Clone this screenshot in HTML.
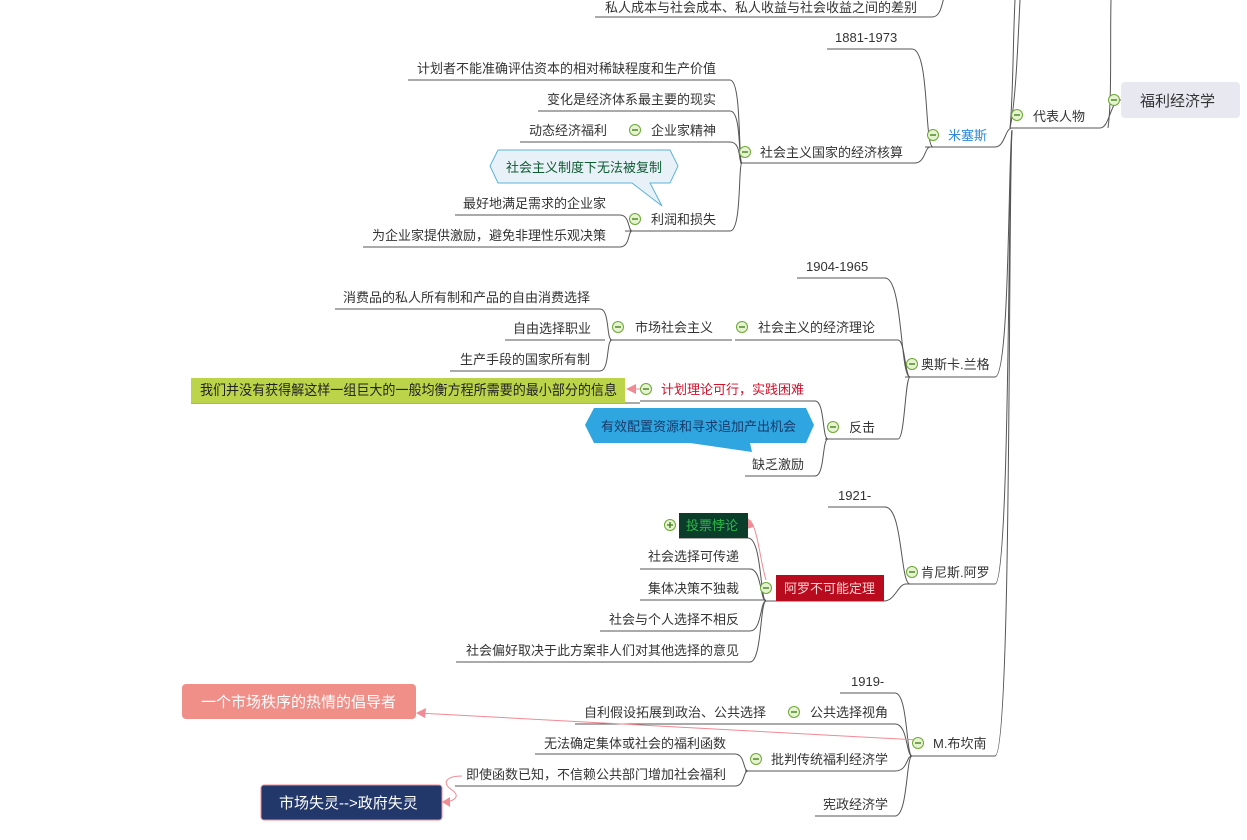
<!DOCTYPE html>
<html><head><meta charset="utf-8"><style>
html,body{margin:0;padding:0;background:#fff;width:1247px;height:840px;overflow:hidden}
svg text{font-family:"Liberation Sans","Noto Sans CJK SC",sans-serif;font-size:13px;fill:#333}
</style></head><body>
<svg width="1247" height="840" viewBox="0 0 1247 840" xmlns="http://www.w3.org/2000/svg">
<defs>
<g id="m"><circle r="5.5" fill="#e6f3d0" stroke="#6aa832" stroke-width="1"/><line x1="-3" y1="0" x2="3" y2="0" stroke="#3a7a12" stroke-width="1.3"/></g>
</defs>
<g fill="none" stroke="#555" stroke-width="1">
<path d="M595 17 H932 C942 17 942 0 945 -5"/>
<path d="M1010 128 C1013 100 1013 40 1015 0"/>
<path d="M1010 128 C1016 100 1018 40 1020 0"/>
<path d="M1108 128 C1112 100 1110 40 1111 0"/>
<path d="M1010 128 H1100 C1110 128 1110 100 1121 100"/>
<path d="M925 147 H995 C1005 147 1005 128 1012 128"/>
<path d="M905 377 H995 C1010 377 1008 160 1012 130"/>
<path d="M905 584 H995 C1010 584 1008 180 1012 130"/>
<path d="M910 756 H995 C1012 756 1008 200 1012 130"/>
<path d="M827 49 H912 C930 49 924 147 933 147"/>
<path d="M740 163 H915 C925 163 925 147 930 147"/>
<path d="M408 80 H730 C742 80 738 163 742 163"/>
<path d="M538 111 H730 C742 111 738 163 742 163"/>
<path d="M520 142 H730 C742 142 738 163 742 163"/>
<path d="M625 231 H730 C742 231 738 163 742 163"/>
<path d="M455 215 H620 C630 215 628 231 632 231"/>
<path d="M363 247 H620 C630 247 628 231 632 231"/>
<path d="M797 278 H885 C903 278 900 377 910 377"/>
<path d="M735 340 H898 C905 340 905 377 910 377"/>
<path d="M825 439 H898 C905 439 905 377 910 377"/>
<path d="M610 340 H732"/>
<path d="M335 309 H600 C610 309 606 340 612 340"/>
<path d="M505 340 H605"/>
<path d="M450 371 H600 C610 371 606 340 612 340"/>
<path d="M640 401 H815 C825 401 822 439 828 439"/>
<path d="M191 403 H640"/>
<path d="M745 476 H815 C825 476 822 439 828 439"/>
<path d="M828 507 H885 C903 507 900 584 910 584"/>
<path d="M766 601 H884 C895 601 898 584 906 584"/>
<path d="M679 538 H748 C762 538 760 601 766 601"/>
<path d="M640 569 H750 C762 569 760 601 766 601"/>
<path d="M640 600 H766"/>
<path d="M600 631 H750 C762 631 760 601 766 601"/>
<path d="M456 662 H750 C762 662 760 601 766 601"/>
<path d="M840 693 H895 C908 693 906 756 912 756"/>
<path d="M575 724 H895 C908 724 906 756 912 756"/>
<path d="M745 771 H895 C908 771 906 756 912 756"/>
<path d="M815 816 H895 C908 816 906 756 912 756"/>
<path d="M535 754 H735 C745 754 743 771 748 771"/>
<path d="M455 786 H735 C745 786 743 771 748 771"/>
</g>
<g fill="none" stroke="#f08a94" stroke-width="1">
<path d="M640 389 H628"/>
<path d="M766 580 C760 560 758 530 750 520"/>
<path d="M918 740 L418 713"/>
<path d="M462 776 C448 776 440 782 452 790 C462 797 452 802 444 802"/>
</g>
<g fill="#f08a94">
<polygon points="626,389 636,384 636,394"/>
<polygon points="748,518 746,529 754,527"/>
<polygon points="416,713 426,708 425,718"/>
<polygon points="442,802 450,797 450,807"/>
</g>
<rect x="1121" y="82" width="119" height="36" rx="4" fill="#e8e8f0"/>
<text x="1140" y="106" style="font-size:15px">福利经济学</text>
<polygon points="498,150 670,150 678,166 670,183 650,183 662,206 632,183 498,183 490,166" fill="#e9f1f8" stroke="#5ab4d8"/>
<text x="506" y="172" style="fill:#0e5a32">社会主义制度下无法被复制</text>
<rect x="191" y="378" width="434" height="25" fill="#bcd44a"/>
<text x="200" y="395" textLength="417" lengthAdjust="spacingAndGlyphs" style="font-size:14px;fill:#222">我们并没有获得解这样一组巨大的一般均衡方程所需要的最小部分的信息</text>
<polygon points="594,408 806,408 814,425 806,443 750,443 752,452 690,443 594,443 585,425" fill="#2fa6e0"/>
<text x="601" y="431" style="fill:#183a6a">有效配置资源和寻求追加产出机会</text>
<rect x="679" y="513" width="69" height="25" fill="#0a3d2a"/>
<text x="686" y="530" style="fill:#2db84a">投票悖论</text>
<rect x="776" y="575" width="108" height="26" fill="#b80c1e"/>
<text x="784" y="593" style="fill:#fbd6d6">阿罗不可能定理</text>
<rect x="182" y="684" width="234" height="35" rx="4" fill="#ef8f88"/>
<text x="201" y="707" style="font-size:15px;fill:#fff">一个市场秩序的热情的倡导者</text>
<rect x="261" y="785" width="181" height="35" rx="3" fill="#22376a" stroke="#f08a94"/>
<text x="279" y="808" style="font-size:15px;fill:#fff">市场失灵--&gt;政府失灵</text>
<use href="#m" x="1114" y="100"/><use href="#m" x="1017" y="115"/><use href="#m" x="933" y="135"/>
<use href="#m" x="745" y="152"/><use href="#m" x="635" y="130"/><use href="#m" x="635" y="219"/>
<use href="#m" x="912" y="364"/><use href="#m" x="742" y="327"/><use href="#m" x="618" y="327"/>
<use href="#m" x="833" y="427"/><use href="#m" x="646" y="389"/><use href="#m" x="912" y="572"/>
<use href="#m" x="766" y="588"/><use href="#m" x="918" y="743"/><use href="#m" x="794" y="712"/><use href="#m" x="756" y="759"/>
<g><circle cx="670" cy="525" r="5.5" fill="#e6f3d0" stroke="#6aa832"/><path d="M667 525H673M670 522V528" stroke="#3a7a12" stroke-width="1.3"/></g>
<text x="605" y="12">私人成本与社会成本、私人收益与社会收益之间的差别</text>
<text x="835" y="42">1881-1973</text>
<text x="1033" y="121">代表人物</text>
<text x="948" y="140" style="fill:#2f8ad8">米塞斯</text>
<text x="760" y="157">社会主义国家的经济核算</text>
<text x="417" y="73">计划者不能准确评估资本的相对稀缺程度和生产价值</text>
<text x="547" y="104">变化是经济体系最主要的现实</text>
<text x="529" y="135">动态经济福利</text>
<text x="651" y="135">企业家精神</text>
<text x="651" y="224">利润和损失</text>
<text x="463" y="208">最好地满足需求的企业家</text>
<text x="372" y="240">为企业家提供激励，避免非理性乐观决策</text>
<text x="806" y="271">1904-1965</text>
<text x="921" y="369">奥斯卡.兰格</text>
<text x="758" y="332">社会主义的经济理论</text>
<text x="635" y="332">市场社会主义</text>
<text x="343" y="302">消费品的私人所有制和产品的自由消费选择</text>
<text x="513" y="333">自由选择职业</text>
<text x="460" y="364">生产手段的国家所有制</text>
<text x="849" y="432">反击</text>
<text x="661" y="394" style="fill:#d0102a">计划理论可行，实践困难</text>
<text x="752" y="469">缺乏激励</text>
<text x="838" y="500">1921-</text>
<text x="921" y="577">肯尼斯.阿罗</text>
<text x="648" y="561">社会选择可传递</text>
<text x="648" y="593">集体决策不独裁</text>
<text x="609" y="624">社会与个人选择不相反</text>
<text x="466" y="655">社会偏好取决于此方案非人们对其他选择的意见</text>
<text x="851" y="686">1919-</text>
<text x="933" y="748">M.布坎南</text>
<text x="810" y="717">公共选择视角</text>
<text x="584" y="717">自利假设拓展到政治、公共选择</text>
<text x="771" y="764">批判传统福利经济学</text>
<text x="544" y="748">无法确定集体或社会的福利函数</text>
<text x="466" y="779">即使函数已知，不信赖公共部门增加社会福利</text>
<text x="823" y="809">宪政经济学</text>
</svg>
</body></html>
